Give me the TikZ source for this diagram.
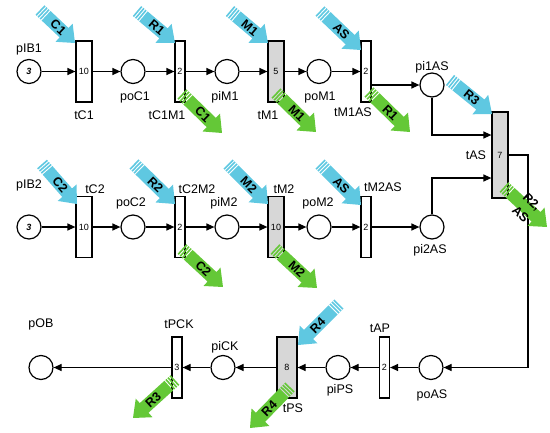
\documentclass[tikz,border=0pt]{standalone}
\usepackage{fontspec}
\setmainfont{Liberation Sans}
\usetikzlibrary{arrows.meta,calc}
\definecolor{resblue}{RGB}{95,200,225}
\definecolor{resgreen}{RGB}{100,200,55}
\definecolor{tgray}{RGB}{215,215,215}
\tikzset{
  place/.style={circle,draw,line width=1.2pt,minimum size=24pt,inner sep=0pt,font=\bfseries\itshape\fontsize{9}{10}\selectfont},
  trans/.style={rectangle,draw,line width=1.2pt,inner sep=0pt,minimum width=10pt,minimum height=61pt,font=\fontsize{9}{10}\selectfont},
  gtrans/.style={trans,fill=tgray},
  lab/.style={inner sep=0pt,font=\fontsize{12.5}{14}\selectfont},
  arrtxt/.style={inner sep=0pt,font=\bfseries\fontsize{12.5}{17}\selectfont,align=center},
  flow/.style={line width=1.2pt,-{Triangle[length=8pt,width=7pt]}},
}
\newcommand{\fatarr}[7]{%
 \pgfmathsetmacro{\fdx}{#3-#1}%
 \pgfmathsetmacro{\fdy}{#4-#2}%
 \pgfmathsetmacro{\fang}{atan2(-\fdy,\fdx)}%
 \pgfmathsetmacro{\flen}{sqrt(\fdx*\fdx+\fdy*\fdy)}%
 \pgfmathsetmacro{\fhb}{\flen-15}%
 \pgfmathsetmacro{\ftxt}{\flen*0.52}%
 \pgfmathsetmacro{\frot}{\fang+#7}%
 \begin{scope}[shift={(#1,#2)},rotate=\fang]
  \fill[#5] (0,-6.5) rectangle (1.6,6.5) (2.8,-6.5) rectangle (4.4,6.5) (5.6,-6.5) rectangle (7.2,6.5);
  \fill[#5] (8.4,-6.5) -- (\fhb,-6.5) -- (\fhb,-12.5) -- (\flen,0) -- (\fhb,12.5) -- (\fhb,6.5) -- (8.4,6.5) -- cycle;
  \node[arrtxt,rotate=\frot] at (\ftxt,0) {#6};
 \end{scope}}
\begin{document}
\begin{tikzpicture}[x=1pt,y=-1pt]
\useasboundingbox (0,0) rectangle (550,432);
% places
\node[place] (pIB1) at (29,71.5) {3};
\node[place] (poC1) at (133,71.5) {};
\node[place] (piM1) at (227,71.5) {};
\node[place] (poM1) at (319,71.5) {};
\node[place] (pi1AS) at (432,85) {};
\node[place] (pIB2) at (29,227) {3};
\node[place] (poC2) at (133,227) {};
\node[place] (piM2) at (227,227) {};
\node[place] (poM2) at (319,227) {};
\node[place] (pi2AS) at (432,227) {};
\node[place] (pOB) at (41,367.5) {};
\node[place] (piCK) at (223,367.5) {};
\node[place] (piPS) at (338,367.5) {};
\node[place] (poAS) at (431,367.5) {};
% transitions
\node[trans,minimum width=16pt] (tC1) at (84,71.5) {10};
\node[trans] (tC1M1) at (180,71.5) {2};
\node[gtrans,minimum width=16pt] (tM1) at (276,71.5) {5};
\node[trans] (tM1AS) at (366,71.5) {2};
\node[gtrans,minimum width=16pt,minimum height=86pt] (tAS) at (500,155) {7};
\node[trans,minimum width=16pt] (tC2) at (84,227) {10};
\node[trans] (tC2M2) at (180,227) {2};
\node[gtrans,minimum width=16pt] (tM2) at (276,227) {10};
\node[trans] (tM2AS) at (366,227) {2};
\node[trans] (tPCK) at (177,367.5) {3};
\node[gtrans,minimum width=20pt] (tPS) at (287,367.5) {8};
\node[trans] (tAP) at (384.5,367.5) {2};
% labels
\node[lab] (l1) at (29,49) {pIB1};
\node[lab] (l2) at (84,115) {tC1};
\node[lab] (l3) at (135,97) {poC1};
\node[lab] (l4) at (167,115) {tC1M1};
\node[lab] (l5) at (225,97) {piM1};
\node[lab] (l6) at (268,115) {tM1};
\node[lab] (l7) at (320,97) {poM1};
\node[lab] (l8) at (353,112) {tM1AS};
\node[lab] (l9) at (432,67) {pi1AS};
\node[lab] (l10) at (476,155) {tAS};
\node[lab] (l11) at (29,185) {pIB2};
\node[lab] (l12) at (95,189) {tC2};
\node[lab] (l13) at (131,203) {poC2};
\node[lab] (l14) at (197,189) {tC2M2};
\node[lab] (l15) at (224,203) {piM2};
\node[lab] (l16) at (284,189) {tM2};
\node[lab] (l17) at (318,203) {poM2};
\node[lab] (l18) at (383,187) {tM2AS};
\node[lab] (l19) at (430,250) {pi2AS};
\node[lab] (l20) at (41,324) {pOB};
\node[lab] (l21) at (179,324) {tPCK};
\node[lab] (l22) at (225,347) {piCK};
\node[lab] (l23) at (293,408) {tPS};
\node[lab] (l24) at (340,390) {piPS};
\node[lab] (l25) at (380,328) {tAP};
\node[lab] (l26) at (432,395) {poAS};
% flows row 1
\draw[flow] (pIB1) -- (tC1);
\draw[flow] (tC1) -- (poC1);
\draw[flow] (poC1) -- (tC1M1);
\draw[flow] (tC1M1) -- (piM1);
\draw[flow] (piM1) -- (tM1);
\draw[flow] (tM1) -- (poM1);
\draw[flow] (poM1) -- (tM1AS);
\draw[flow] (tM1AS.east |- pi1AS.west) -- (pi1AS.west);
\draw[flow] (pi1AS.south) |- ([yshift=20pt]tAS.west);
% flows row 2
\draw[flow] (pIB2) -- (tC2);
\draw[flow] (tC2) -- (poC2);
\draw[flow] (poC2) -- (tC2M2);
\draw[flow] (tC2M2) -- (piM2);
\draw[flow] (piM2) -- (tM2);
\draw[flow] (tM2) -- (poM2);
\draw[flow] (poM2) -- (tM2AS);
\draw[flow] (tM2AS) -- (pi2AS);
\draw[flow] (pi2AS.north) |- ([yshift=-23pt]tAS.west);
% output of tAS
\coordinate (cR) at (528,155);
\draw[flow] (tAS.east) -- (cR) |- (poAS.east);
% row 3
\draw[flow] (poAS) -- (tAP);
\draw[flow] (tAP) -- (piPS);
\draw[flow] (piPS) -- (tPS);
\draw[flow] (tPS) -- (piCK);
\draw[flow] (piCK) -- (tPCK);
\draw[flow] (tPCK) -- (pOB);
% resource arrows (blue = acquire)
\fatarr{40}{10}{75}{43}{resblue}{C1}{0}
\fatarr{137}{11}{175}{43}{resblue}{R1}{0}
\fatarr{230}{11}{268}{43}{resblue}{M1}{0}
\fatarr{320}{11}{361}{50}{resblue}{AS}{0}
\fatarr{42}{164}{77}{204}{resblue}{C2}{0}
\fatarr{134}{164}{175}{204}{resblue}{R2}{0}
\fatarr{228}{164}{268}{204}{resblue}{M2}{0}
\fatarr{320}{164}{361}{205}{resblue}{AS}{0}
\fatarr{450}{80}{492}{114}{resblue}{R3}{0}
\fatarr{339}{304}{298}{345}{resblue}{R4}{180}
% resource arrows (green = release)
\fatarr{182}{94}{222}{133}{resgreen}{C1}{0}
\fatarr{276}{93}{316}{132}{resgreen}{M1}{0}
\fatarr{369}{92}{410}{132}{resgreen}{R1}{0}
\fatarr{504}{187}{547}{227}{resgreen}{R2,\\AS}{0}
\fatarr{182}{249}{223}{287}{resgreen}{C2}{0}
\fatarr{275}{249}{317}{288}{resgreen}{M2}{0}
\fatarr{175}{380}{133}{418}{resgreen}{R3}{180}
\fatarr{290}{387}{250}{428}{resgreen}{R4}{180}
\end{tikzpicture}
\end{document}
